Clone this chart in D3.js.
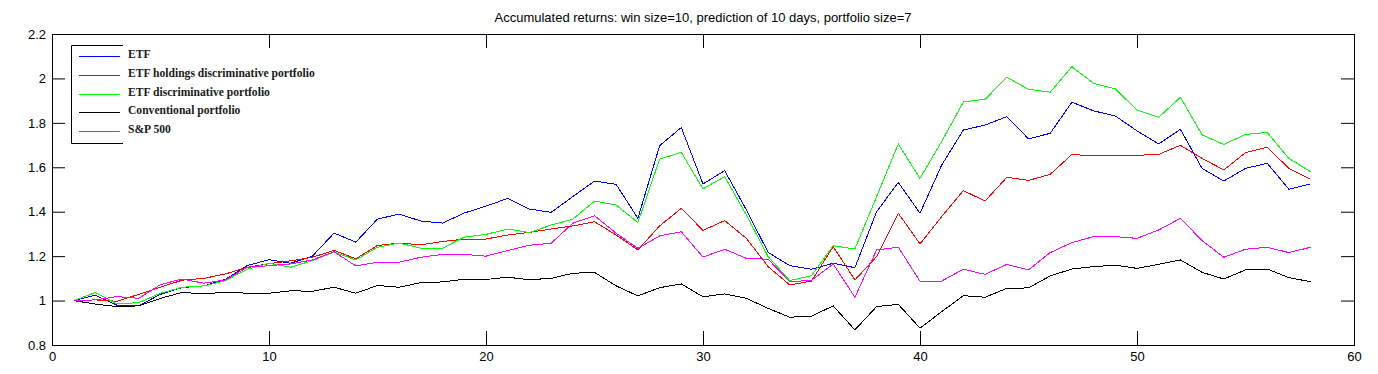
<!DOCTYPE html>
<html>
<head>
<meta charset="utf-8">
<script src="https://cdn.jsdelivr.net/npm/d3@7"></script>
<style>
  html, body { margin: 0; padding: 0; background: #fff; }
  svg { display: block; }
  .tick text { font-family: "Liberation Sans", Arial, sans-serif; font-size: 13px; fill: #000; }
</style>
</head>
<body>
<svg id="chart" width="1378" height="374"></svg>
<script>
const title = "Accumulated returns: win size=10, prediction of 10 days, portfolio size=7";
const xTicks = [0, 10, 20, 30, 40, 50, 60];
const yTicks = [0.8, 1, 1.2, 1.4, 1.6, 1.8, 2, 2.2];
const days = d3.range(1, 59);

const seriesNames = ["ETF", "ETF holdings discriminative portfolio", "ETF discriminative portfolio", "Conventional portfolio", "S&P 500"];
const seriesColors = ["#0000ff", "#ff0000", "#00ff00", "#000000", "#ff00ff"];

const etf = [1.000, 1.024, 0.979, 0.977, 1.028, 1.059, 1.066, 1.096, 1.158, 1.184,
  1.168, 1.200, 1.304, 1.263, 1.367, 1.389, 1.358, 1.349, 1.394, 1.425,
  1.460, 1.412, 1.397, 1.468, 1.538, 1.523, 1.370, 1.697, 1.779, 1.525,
  1.585, 1.408, 1.217, 1.157, 1.141, 1.168, 1.148, 1.400, 1.532, 1.393,
  1.610, 1.768, 1.790, 1.828, 1.728, 1.753, 1.893, 1.854, 1.831, 1.764,
  1.705, 1.771, 1.595, 1.538, 1.595, 1.618, 1.501, 1.525];
const etfHoldings = [1.000, 1.003, 0.997, 1.028, 1.060, 1.092, 1.100, 1.120, 1.150, 1.166,
  1.179, 1.195, 1.226, 1.188, 1.248, 1.259, 1.251, 1.266, 1.277, 1.277,
  1.295, 1.307, 1.322, 1.336, 1.355, 1.295, 1.228, 1.336, 1.415, 1.316,
  1.360, 1.280, 1.153, 1.070, 1.088, 1.243, 1.093, 1.198, 1.393, 1.255,
  1.378, 1.495, 1.448, 1.555, 1.541, 1.568, 1.658, 1.651, 1.654, 1.654,
  1.658, 1.699, 1.640, 1.588, 1.666, 1.690, 1.595, 1.546];
const etfDisc = [1.000, 1.036, 0.985, 0.991, 1.033, 1.060, 1.066, 1.090, 1.141, 1.168,
  1.150, 1.180, 1.218, 1.183, 1.240, 1.259, 1.236, 1.236, 1.286, 1.298,
  1.322, 1.306, 1.340, 1.366, 1.448, 1.430, 1.351, 1.637, 1.667, 1.503,
  1.558, 1.385, 1.198, 1.090, 1.112, 1.247, 1.232, 1.468, 1.705, 1.550,
  1.716, 1.894, 1.906, 2.005, 1.951, 1.938, 2.053, 1.978, 1.953, 1.858,
  1.825, 1.915, 1.746, 1.703, 1.748, 1.757, 1.640, 1.580];
const conventional = [1.000, 0.984, 0.973, 0.976, 1.010, 1.037, 1.030, 1.038, 1.033, 1.033,
  1.044, 1.042, 1.060, 1.033, 1.068, 1.060, 1.081, 1.084, 1.096, 1.095,
  1.105, 1.094, 1.100, 1.123, 1.127, 1.066, 1.021, 1.058, 1.075, 1.017,
  1.030, 1.010, 0.965, 0.925, 0.930, 0.976, 0.868, 0.973, 0.983, 0.876,
  0.950, 1.022, 1.015, 1.055, 1.057, 1.111, 1.142, 1.153, 1.159, 1.145,
  1.163, 1.183, 1.127, 1.097, 1.138, 1.142, 1.103, 1.085];
const sp500 = [1.000, 1.003, 1.018, 1.010, 1.072, 1.097, 1.078, 1.093, 1.150, 1.157,
  1.165, 1.183, 1.220, 1.156, 1.173, 1.173, 1.195, 1.208, 1.208, 1.200,
  1.225, 1.249, 1.258, 1.348, 1.382, 1.303, 1.235, 1.291, 1.310, 1.196,
  1.231, 1.190, 1.186, 1.085, 1.091, 1.165, 1.015, 1.228, 1.240, 1.087,
  1.088, 1.141, 1.118, 1.163, 1.138, 1.216, 1.261, 1.288, 1.288, 1.280,
  1.318, 1.370, 1.270, 1.195, 1.231, 1.240, 1.216, 1.240];
const seriesValues = [etf, etfHoldings, etfDisc, conventional, sp500];

const svg = d3.select("#chart");
const mLeft = 52, mRight = 1354, mTop = 34, mBottom = 345;

const x = d3.scaleLinear().domain([0, 60]).range([mLeft, mRight]);
const y = d3.scaleLinear().domain([0.8, 2.2]).range([mBottom, mTop]);

// Title
svg.append("text")
  .attr("x", (mLeft + mRight) / 2)
  .attr("y", 22)
  .attr("text-anchor", "middle")
  .attr("font-family", "Liberation Sans, Arial, sans-serif")
  .attr("font-size", 13)
  .attr("fill", "#000")
  .text(title);

// Axes with inward ticks on all four sides
const removeDomain = g => g.select(".domain").remove();
svg.append("g").attr("transform", `translate(0,${mBottom})`)
  .call(d3.axisBottom(x).tickValues(xTicks).tickSize(-14).tickPadding(7).tickFormat(d3.format("d")))
  .call(removeDomain);
svg.append("g").attr("transform", `translate(0,${mTop})`)
  .call(d3.axisTop(x).tickValues(xTicks).tickSize(-14).tickFormat(""))
  .call(removeDomain);
svg.append("g").attr("transform", `translate(${mLeft},0)`)
  .call(d3.axisLeft(y).tickValues(yTicks).tickSize(-13).tickPadding(6).tickFormat(d => String(+d.toFixed(1))))
  .call(removeDomain);
svg.append("g").attr("transform", `translate(${mRight},0)`)
  .call(d3.axisRight(y).tickValues(yTicks).tickSize(-13).tickFormat(""))
  .call(removeDomain);
svg.selectAll(".tick line").attr("stroke", "#000");

// Box
svg.append("rect")
  .attr("x", mLeft + 0.5).attr("y", mTop + 0.5)
  .attr("width", mRight - mLeft).attr("height", mBottom - mTop)
  .attr("fill", "none").attr("stroke", "#000").attr("stroke-width", 1);

// Lines
const line = d3.line().x((d, i) => x(days[i])).y(d => y(d));
seriesValues.forEach((vals, k) => {
  svg.append("path")
    .datum(vals)
    .attr("d", line)
    .attr("fill", "none")
    .attr("stroke", seriesColors[k])
    .attr("stroke-width", 1)
    .attr("shape-rendering", "crispEdges");
});

// Legend (partial box as in reference)
const lg = svg.append("g");
const lgLeft = 71.5, lgTop = 45.5, lgBottom = 143.5, lgRight = 123;
lg.append("path")
  .attr("d", `M${lgRight},${lgTop}H${lgLeft}V${lgBottom}H${lgRight}`)
  .attr("fill", "none").attr("stroke", "#000").attr("stroke-width", 1);
const legendY = [56.5, 75.5, 94.5, 112.5, 131.5];
seriesNames.forEach((name, k) => {
  lg.append("line")
    .attr("x1", 79).attr("x2", 120)
    .attr("y1", legendY[k]).attr("y2", legendY[k])
    .attr("stroke", seriesColors[k]).attr("stroke-width", 1);
  lg.append("text")
    .attr("x", 128).attr("y", legendY[k] + 1)
    .attr("font-family", "Liberation Serif, Times New Roman, serif")
    .attr("font-weight", "bold")
    .attr("font-size", 11.6)
    .attr("fill", "#1a1a1a")
    .text(name);
});
</script>
</body>
</html>
